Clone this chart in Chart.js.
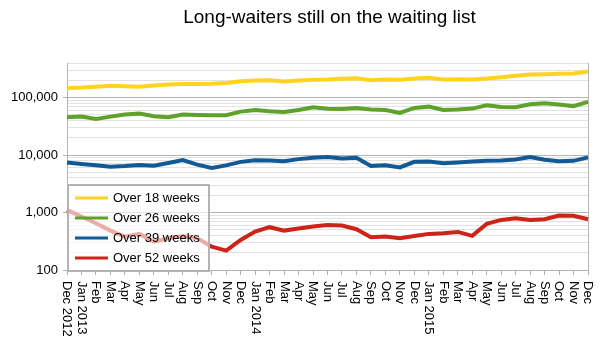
<!DOCTYPE html>
<html><head><meta charset="utf-8">
<script src="https://cdn.jsdelivr.net/npm/chart.js@4"></script>
<style>html,body{margin:0;padding:0;background:#fff}canvas{display:block}</style>
</head><body>
<div style="width:606px;height:349px"><canvas id="c" width="606" height="349"></canvas></div>
<script>
const categories = ['Dec 2012','Jan 2013','Feb','Mar','Apr','May','Jun','Jul','Aug','Sep','Oct','Nov','Dec',
  'Jan 2014','Feb','Mar','Apr','May','Jun','Jul','Aug','Sep','Oct','Nov','Dec',
  'Jan 2015','Feb','Mar','Apr','May','Jun','Jul','Aug','Sep','Oct','Nov','Dec'];
const over18 = [147600,149600,153800,160000,157000,154000,162000,169000,173000,173000,175000,180000,193000,198000,200000,190000,198000,204000,206000,212000,217000,200000,206000,204000,215000,221000,206000,209000,206000,215000,227000,239000,252000,255000,259000,262000,284000];
const over26 = [45400,46700,42600,46700,50600,52600,47200,45400,50600,49900,49200,49200,57000,61000,57700,56300,61000,67800,64000,63500,66000,61800,61000,54000,66000,69600,61000,61800,64300,73400,68800,67800,76400,79500,75500,70600,84200];
const over39 = [7410,7000,6620,6280,6440,6730,6550,7300,8160,6810,5940,6620,7620,8160,8040,7820,8500,8990,9250,8750,8990,6440,6620,6110,7620,7710,7210,7410,7710,7940,8040,8400,9250,8260,7820,7940,9120];
const over52 = [1115,851,652,485,381,425,312,357,392,357,255,217,334,466,556,485,526,570,605,593,513,372,381,357,392,425,437,460,392,634,744,797,744,766,885,875,766];
const seriesNames = ['Over 18 weeks','Over 26 weeks','Over 39 weeks','Over 52 weeks'];
const seriesColors = ['#ffd320','#5fa22a','#115a96','#cc2418'];
const yTickValues = [100,1000,10000,100000];
const yTickLabels = ['100','1,000','10,000','100,000'];
const yMin = 100, yMax = 400000;
const titleText = 'Long-waiters still on the waiting list';
const FONT = '"Liberation Sans", Arial, sans-serif';

const isMajor = v => yTickValues.indexOf(v) >= 0;

const decor = {
  id: 'decor',
  beforeDatasetsDraw(chart) {
    const {ctx, chartArea: a} = chart;
    ctx.save();
    ctx.strokeStyle = '#b3b3b3';
    ctx.lineWidth = 1;
    ctx.beginPath();
    ctx.moveTo(Math.round(a.right) + 0.5, a.top);
    ctx.lineTo(Math.round(a.right) + 0.5, a.bottom);
    ctx.stroke();
    ctx.restore();
  },
  afterDatasetsDraw(chart) {
    const {ctx} = chart;
    ctx.save();
    ctx.fillStyle = 'rgba(255,255,255,0.62)';
    ctx.fillRect(68, 185, 141, 86);
    ctx.strokeStyle = '#b3b3b3';
    ctx.lineWidth = 2;
    ctx.strokeRect(68, 185, 141, 86);
    ctx.font = '13px ' + FONT;
    ctx.textBaseline = 'middle';
    ctx.textAlign = 'left';
    seriesNames.forEach((n, i) => {
      const y = 198 + i * 20;
      ctx.strokeStyle = seriesColors[i];
      ctx.lineWidth = 3;
      ctx.beginPath();
      ctx.moveTo(75, y); ctx.lineTo(108, y);
      ctx.stroke();
      ctx.fillStyle = '#000';
      ctx.fillText(n, 113, y);
    });
    ctx.restore();
  },
  afterDraw(chart) {
    const {ctx, chartArea: a} = chart;
    const xs = chart.scales.x;
    ctx.save();
    ctx.fillStyle = '#000';
    ctx.font = '19px ' + FONT;
    ctx.textAlign = 'center';
    ctx.textBaseline = 'middle';
    ctx.fillText(titleText, (a.left + a.right) / 2 + 2, 18);
    ctx.font = '13px ' + FONT;
    ctx.textAlign = 'left';
    ctx.textBaseline = 'middle';
    categories.forEach((lab, i) => {
      const x = xs.getPixelForTick(i);
      ctx.save();
      ctx.translate(x, a.bottom + 11);
      ctx.rotate(Math.PI / 2);
      ctx.fillText(lab, 0, 0);
      ctx.restore();
    });
    ctx.restore();
  }
};

const allSeries = [over18, over26, over39, over52];
new Chart(document.getElementById('c'), {
  type: 'line',
  data: {
    labels: categories,
    datasets: allSeries.map((d, i) => ({
      label: seriesNames[i], data: d, borderColor: seriesColors[i], backgroundColor: seriesColors[i],
      borderWidth: 4, pointRadius: 0, tension: 0, fill: false
    }))
  },
  options: {
    responsive: false, animation: false,
    layout: {padding: {top: 63, right: 18, left: 0, bottom: 0}},
    plugins: {legend: {display: false}, title: {display: false}, tooltip: {enabled: false}},
    scales: {
      x: {
        type: 'category', offset: false,
        grid: {drawOnChartArea: false, drawTicks: true, tickLength: 5, color: '#b3b3b3'},
        border: {color: '#b3b3b3'},
        ticks: {display: false, autoSkip: false},
        afterFit(s) { s.height = 79; }
      },
      y: {
        type: 'logarithmic', min: yMin, max: yMax,
        afterBuildTicks(s) {
          const t = [];
          for (let e = 100; e <= yMax; e *= 10) {
            for (let k = 1; k <= 9; k++) {
              const v = k * e;
              if (v >= yMin && v <= yMax) t.push({value: v, major: isMajor(v)});
            }
          }
          s.ticks = t;
        },
        ticks: {
          autoSkip: false, padding: 5, color: '#000',
          font: {family: FONT, size: 13},
          callback: v => { const i = yTickValues.indexOf(v); return i >= 0 ? yTickLabels[i] : ''; }
        },
        grid: {
          tickLength: 4,
          color: c => (c.tick && isMajor(c.tick.value)) ? '#b3b3b3' : '#e2e2e2',
          tickColor: c => (c.tick && isMajor(c.tick.value)) ? '#b3b3b3' : 'rgba(0,0,0,0)'
        },
        border: {color: '#b3b3b3'},
        afterFit(s) { s.width = 67; }
      }
    }
  },
  plugins: [decor]
});
</script>
</body></html>
